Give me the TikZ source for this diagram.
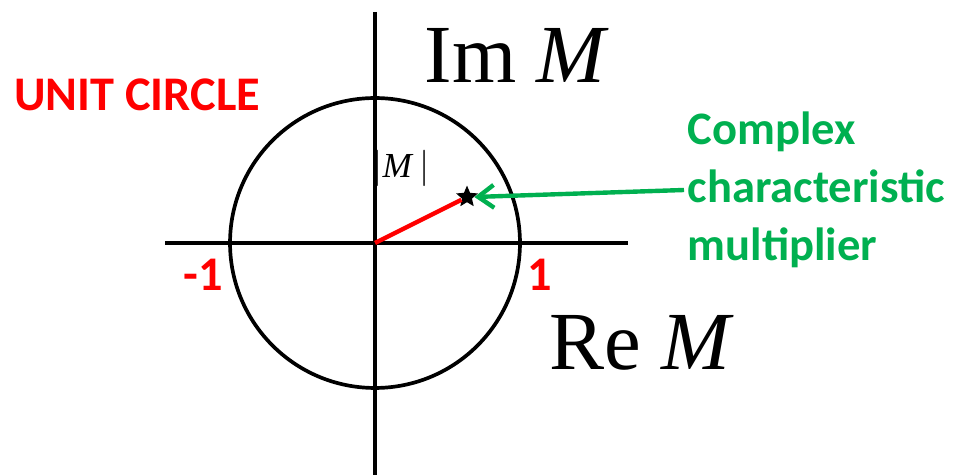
\documentclass[tikz,border=0pt]{standalone}
\usepackage{fontspec}
\setmainfont{Liberation Serif}
\newfontfamily\calib{Carlito}
\usepackage{xcolor}
\definecolor{offgreen}{RGB}{0,176,80}
\usetikzlibrary{shapes.geometric,arrows.meta,positioning,calc}

\begin{document}
\begin{tikzpicture}[
  x=0.02cm, y=-0.02cm,
  axis/.style={line width=2.1pt, black},
  redtxt/.style={font=\calib\bfseries\fontsize{27.5}{30}\selectfont, text=red, inner sep=0pt},
  bigtxt/.style={font=\fontsize{47}{50}\selectfont, inner sep=0pt},
  greentxt/.style={font=\calib\bfseries\fontsize{26.5}{33}\selectfont, text=offgreen, align=left, inner sep=2pt},
]
\useasboundingbox (0,0) rectangle (959,475);
% axes and unit circle
\coordinate (O) at (375,243);
\draw[axis] (165,243) -- (628,243);
\draw[axis] (375,12) -- (375,475);
\draw[axis] (O) circle[radius=2.9cm];
% the multiplier
\node[star, star points=5, star point ratio=2.2, fill=black, inner sep=0pt, minimum size=13pt] (mult) at (467,197) {};
\draw[red, line width=2.5pt] (O) -- (mult);
\node[font=\fontsize{20}{22}\selectfont] (abs) at (401,168) {$\vert$\textit{M}\,$\vert$};
% labels
\node[bigtxt] (im) at (517,55) {Im \textit{M}};
\node[bigtxt] (re) at (642,343) {Re \textit{M}};
\node[redtxt] (unit) at (137,95) {UNIT CIRCLE};
\node[redtxt] (m1) at (203,275) {-1};
\node[redtxt] (p1) at (540,275) {1};
\node[greentxt, anchor=west] (lbl) at (684,190) {Complex\\characteristic\\multiplier};
\draw[-{Straight Barb[length=9pt,width=13pt]}, offgreen, line width=2.5pt] (lbl.west) -- (mult.east);
\end{tikzpicture}
\end{document}
